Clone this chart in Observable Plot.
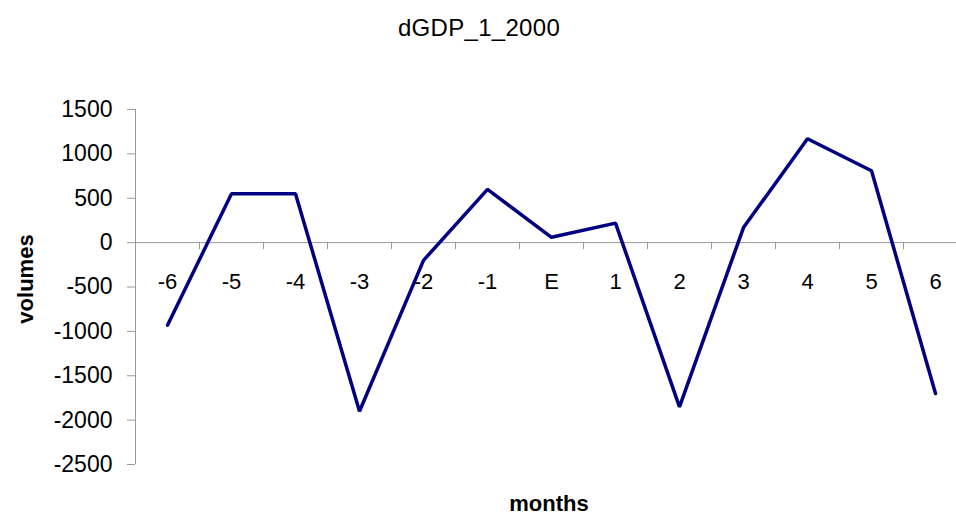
<!DOCTYPE html>
<html>
<head>
<meta charset="utf-8">
<script src="https://cdn.jsdelivr.net/npm/d3@7"></script>
<script src="https://cdn.jsdelivr.net/npm/@observablehq/plot@0.6"></script>
<style>
  html, body { margin: 0; padding: 0; background: #fff; }
  #wrap { position: relative; width: 956px; height: 517px; font-family: "Liberation Sans", Arial, sans-serif; }
  #wrap svg { position: absolute; left: 0; top: 0; font-family: "Liberation Sans", Arial, sans-serif; }
  .lbl { position: absolute; color: #000; white-space: nowrap; font-size: 22px; line-height: 1; }
  #title { left: 479px; top: 16px; transform: translateX(-50%); font-size: 24px; letter-spacing: 0.3px; }
  #xlabel { left: 549px; top: 493px; transform: translateX(-50%); font-weight: bold; }
  #ylabel { left: 26px; top: 279px; transform: translate(-50%, -50%) rotate(-90deg); font-weight: bold; }
  g[aria-label="y-axis tick"] path { stroke: #999; }
</style>
</head>
<body>
<div id="wrap">
  <div id="chart"></div>
  <div class="lbl" id="title"></div>
  <div class="lbl" id="xlabel"></div>
  <div class="lbl" id="ylabel"></div>
</div>
<script>
const title = "dGDP_1_2000";
const xTitle = "months";
const yTitle = "volumes";
const months = ["-6", "-5", "-4", "-3", "-2", "-1", "E", "1", "2", "3", "4", "5", "6"];
const volumes = [-930, 550, 550, -1900, -200, 600, 60, 220, -1850, 170, 1170, 810, -1700];
const yTicks = [-2500, -2000, -1500, -1000, -500, 0, 500, 1000, 1500];

document.getElementById("title").textContent = title;
document.getElementById("xlabel").textContent = xTitle;
document.getElementById("ylabel").textContent = yTitle;

const data = months.map((m, i) => ({i, month: m, value: volumes[i]}));
const boundaries = months.map((m, i) => i + 0.5);
const left = -0.5;

const plot = Plot.plot({
  width: 956,
  height: 517,
  marginTop: 109,
  marginBottom: 53,
  marginLeft: 135,
  marginRight: 0,
  style: {fontFamily: "Liberation Sans, Arial, sans-serif", fontSize: "23px", background: "transparent"},
  x: {type: "linear", domain: [-0.5, months.length - 0.5], range: [135, 967], axis: null},
  y: {domain: [-2500, 1500], axis: null},
  marks: [
    Plot.axisY({ticks: yTicks, tickSize: 8, tickPadding: 15, fontSize: 23, label: null, tickFormat: d => String(d)}),
    Plot.ruleX([left], {stroke: "#999", strokeWidth: 1}),
    Plot.ruleY([0], {stroke: "#999", strokeWidth: 1}),
    Plot.ruleX(boundaries, {x: d => d, y1: 0, y2: 0, insetBottom: -7, stroke: "#999", strokeWidth: 1}),
    Plot.text(data, {x: "i", y: 0, text: "month", dy: 39, fontSize: 22, fill: "#000"}),
    Plot.line(data, {x: "i", y: "value", stroke: "#000080", strokeWidth: 3.5, strokeLinejoin: "miter", strokeLinecap: "round"})
  ]
});
document.getElementById("chart").appendChild(plot);
</script>
</body>
</html>
